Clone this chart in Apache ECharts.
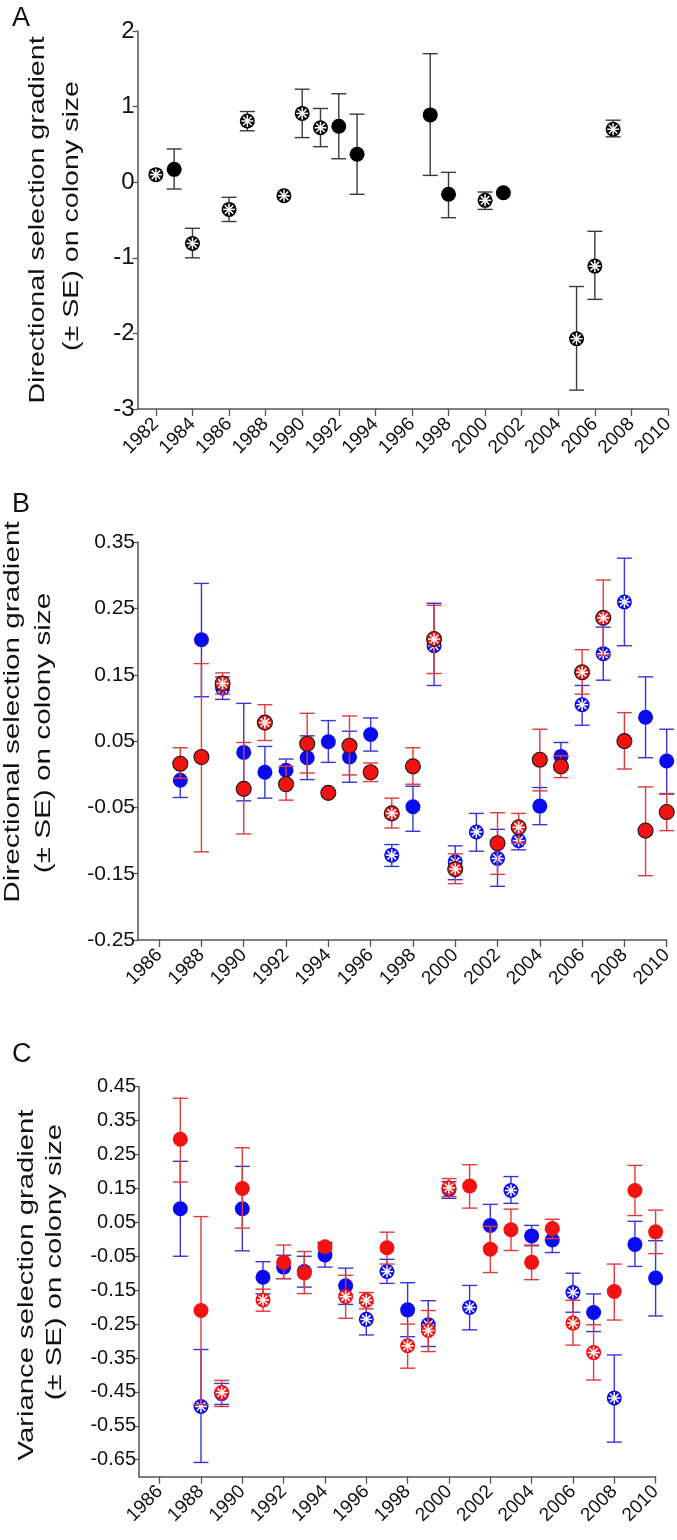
<!DOCTYPE html>
<html>
<head>
<meta charset="utf-8">
<script src="https://cdn.jsdelivr.net/npm/echarts@6/dist/echarts.min.js"></script>
<style>html,body{margin:0;padding:0;background:#fff}#c{width:677px;height:1540px}</style>
</head>
<body>
<div id="c"></div>
<script>
// ---------- Panel A (black) ----------
const yearsA = [1982,1983,1984,1986,1987,1989,1990,1991,1992,1993,1997,1998,2000,2001,2005,2006,2007];
const valA   = [0.10,0.17,-0.81,-0.36,0.81,-0.18,0.91,0.72,0.74,0.37,0.89,-0.16,-0.24,-0.14,-2.07,-1.11,0.70];
const loA    = [null,-0.09,-1.00,-0.52,0.68,null,0.59,0.47,0.31,-0.16,0.09,-0.47,-0.36,null,-2.75,-1.55,0.60];
const hiA    = [null,0.44,-0.61,-0.20,0.935,null,1.23,0.975,1.17,0.90,1.70,0.13,-0.13,null,-1.38,-0.65,0.82];
const starA  = [1,0,1,1,1,1,1,1,0,0,0,0,1,0,1,1,1];

// ---------- Panel B ----------
const yearsBblue = [1987,1988,1989,1990,1991,1992,1993,1994,1995,1996,1997,1998,1999,2000,2001,2002,2003,2004,2005,2006,2007,2008,2009,2010];
const valBblue = [-0.009,0.203,0.130,0.033,0.003,0.006,0.025,0.049,0.026,0.060,-0.122,-0.049,0.194,-0.132,-0.087,-0.127,-0.100,-0.048,0.027,0.105,0.182,0.260,0.086,0.020];
const loBblue  = [-0.035,0.117,0.113,-0.040,-0.036,-0.011,-0.008,0.018,-0.012,0.035,-0.139,-0.086,0.134,-0.159,-0.116,-0.169,-0.114,-0.076,0.007,0.074,0.142,0.194,0.025,-0.030];
const hiBblue  = [0.018,0.288,0.147,0.107,0.042,0.023,0.058,0.081,0.065,0.085,-0.106,-0.018,0.258,-0.108,-0.059,-0.083,-0.076,-0.020,0.048,0.134,0.222,0.326,0.147,0.068];
const starBblue = [0,0,1,0,0,0,0,0,0,0,1,0,1,1,1,1,1,0,0,1,1,1,0,0];

const yearsBred = [1987,1988,1989,1990,1991,1992,1993,1994,1995,1996,1997,1998,1999,2000,2002,2003,2004,2005,2006,2007,2008,2009,2010];
const valBred = [0.016,0.026,0.137,-0.022,0.078,-0.015,0.046,-0.028,0.043,0.003,-0.059,0.012,0.204,-0.143,-0.104,-0.080,0.022,0.012,0.154,0.236,0.050,-0.085,-0.057];
const loBred  = [-0.006,-0.117,0.121,-0.090,0.051,-0.039,0.002,null,-0.001,-0.011,-0.081,-0.015,0.152,-0.165,-0.151,-0.104,-0.025,-0.005,0.121,0.179,0.008,-0.153,-0.085];
const hiBred  = [0.040,0.167,0.153,0.048,0.105,0.012,0.092,null,0.088,0.017,-0.036,0.040,0.255,-0.120,-0.058,-0.059,0.068,0.028,0.188,0.293,0.093,-0.019,-0.029];
const starBred = [0,0,1,0,1,0,0,0,0,0,1,0,1,1,0,1,0,0,1,1,0,0,0];

// ---------- Panel C ----------
const yearsCblue = [1987,1988,1989,1990,1991,1992,1993,1994,1995,1996,1997,1998,1999,2000,2001,2002,2003,2004,2005,2006,2007,2008,2009,2010];
const valCblue = [0.090,-0.493,-0.455,0.090,-0.112,-0.082,-0.095,-0.046,-0.137,-0.236,-0.095,-0.208,-0.252,0.147,-0.201,0.041,0.144,0.010,-0.002,-0.157,-0.216,-0.468,-0.015,-0.114];
const loCblue  = [-0.050,-0.658,-0.487,-0.034,-0.161,-0.116,-0.141,-0.082,-0.192,-0.282,-0.130,-0.287,-0.316,0.121,-0.267,-0.022,0.106,-0.019,-0.039,-0.215,-0.272,-0.598,-0.080,-0.226];
const hiCblue  = [0.230,-0.325,-0.425,0.215,-0.066,-0.047,-0.050,-0.009,-0.085,-0.189,-0.059,-0.128,-0.181,0.170,-0.136,0.103,0.185,0.041,0.027,-0.100,-0.161,-0.341,0.053,-0.004];
const starCblue = [0,1,1,0,0,0,0,0,0,1,1,0,1,1,1,0,1,0,0,1,0,1,0,0];

const yearsCred = [1987,1988,1989,1990,1991,1992,1993,1994,1995,1996,1997,1998,1999,2000,2001,2002,2003,2004,2005,2006,2007,2008,2009,2010];
const valCred = [0.295,-0.210,-0.452,0.150,-0.179,-0.068,-0.099,-0.022,-0.169,-0.180,-0.025,-0.314,-0.269,0.152,0.157,-0.029,0.028,-0.068,0.032,-0.247,-0.334,-0.154,0.144,0.022];
const loCred  = [0.169,-0.487,-0.493,0.033,-0.212,-0.116,-0.160,-0.030,-0.233,-0.205,-0.073,-0.380,-0.331,0.126,0.092,-0.098,-0.033,-0.119,0.002,-0.312,-0.415,-0.238,0.070,-0.042];
const hiCred  = [0.416,0.067,-0.416,0.270,-0.147,-0.017,-0.036,-0.012,-0.106,-0.157,0.021,-0.250,-0.210,0.179,0.220,0.038,0.089,-0.017,0.059,-0.180,-0.252,-0.073,0.218,0.086];
const starCred = [0,0,1,0,1,0,0,0,1,1,0,1,1,1,0,0,0,0,0,1,1,0,0,0];

// ---------- tick labels ----------
const xTicksA = [1982,1984,1986,1988,1990,1992,1994,1996,1998,2000,2002,2004,2006,2008,2010];
const xTicksBC = [1986,1988,1990,1992,1994,1996,1998,2000,2002,2004,2006,2008,2010];
const yTicksA = [-3,-2,-1,0,1,2];
const yTicksB = [-0.25,-0.15,-0.05,0.05,0.15,0.25,0.35];
const yTicksC = [-0.65,-0.55,-0.45,-0.35,-0.25,-0.15,-0.05,0.05,0.15,0.25,0.35,0.45];

const FONT = 'Liberation Sans, Arial, Helvetica, sans-serif';

function build(years, vals, lo, hi, star) {
  return years.map((y, i) => {
    const has = lo[i] != null && hi[i] != null;
    return [y, vals[i], has ? lo[i] : vals[i], has ? hi[i] : vals[i], star[i], has ? 1 : 0];
  });
}

function makeRender(fill, barColor, border) {
  return function (params, api) {
    const x = api.value(0), v = api.value(1), lo = api.value(2), hi = api.value(3);
    const star = api.value(4), has = api.value(5);
    const c = api.coord([x, v]);
    const children = [];
    const capHalf = 7.5;
    if (has) {
      const pl = api.coord([x, lo]), ph = api.coord([x, hi]);
      const st = { stroke: barColor, lineWidth: 1.4 };
      children.push({ type: 'line', shape: { x1: c[0], y1: pl[1], x2: c[0], y2: ph[1] }, style: st });
      children.push({ type: 'line', shape: { x1: c[0] - capHalf, y1: pl[1], x2: c[0] + capHalf, y2: pl[1] }, style: st });
      children.push({ type: 'line', shape: { x1: c[0] - capHalf, y1: ph[1], x2: c[0] + capHalf, y2: ph[1] }, style: st });
    }
    children.push({ type: 'circle', shape: { cx: c[0], cy: c[1], r: 7.5 },
      style: { fill: fill, stroke: border || null, lineWidth: border ? 1.1 : 0 } });
    if (star) {
      const d = 6;
      [0, 45, 90, 135].forEach(a => {
        const r = a * Math.PI / 180, dx = Math.cos(r) * d, dy = Math.sin(r) * d;
        children.push({ type: 'line', shape: { x1: c[0] - dx, y1: c[1] - dy, x2: c[0] + dx, y2: c[1] + dy },
          style: { stroke: '#ffffff', lineWidth: 1.5 } });
      });
    }
    return { type: 'group', children: children };
  };
}

function series(idx, data, fill, bar, border) {
  return { type: 'custom', xAxisIndex: idx, yAxisIndex: idx, data: data,
    encode: { x: 0, y: 1 }, renderItem: makeRender(fill, bar, border), silent: true, clip: false };
}

function axisLine() { return { show: true, onZero: false, lineStyle: { color: '#555', width: 1.5 } }; }

function xAxis(idx, min, max, ticks) {
  return { type: 'value', gridIndex: idx, min: min, max: max,
    axisLine: axisLine(),
    axisTick: { show: true, length: 7, inside: false, customValues: ticks, lineStyle: { color: '#555', width: 1.3 } },
    axisLabel: { customValues: ticks, rotate: 45, fontSize: 19, color: '#111', fontFamily: FONT, margin: 12,
      formatter: v => String(v) },
    splitLine: { show: false } };
}
function yAxis(idx, min, max, ticks, fs, dec) {
  return { type: 'value', gridIndex: idx, min: min, max: max,
    axisLine: axisLine(),
    axisTick: { show: true, length: 5, inside: false, customValues: ticks, lineStyle: { color: '#555', width: 1.3 } },
    axisLabel: { customValues: ticks, fontSize: fs, color: '#111', fontFamily: FONT, margin: 3,
      formatter: v => Number(v).toFixed(dec) },
    splitLine: { show: false } };
}

function ytitle(x, y, text, sx) {
  return { type: 'text', x: x, y: y, rotation: Math.PI / 2, scaleX: sx, scaleY: 1,
    style: { text: text, font: '22px ' + FONT, fill: '#111', textAlign: 'center', textVerticalAlign: 'middle' } };
}
function letter(x, y, t) {
  return { type: 'text', x: x, y: y, style: { text: t, font: '27px ' + FONT, fill: '#111', textAlign: 'left', textVerticalAlign: 'top' } };
}

const BLUE = '#0a0aee', RED = '#f21212';
const BLUEBAR = '#3535d8', REDBAR = '#e23a3a';

const chart = echarts.init(document.getElementById('c'), null, { renderer: 'canvas', width: 677, height: 1540 });
chart.setOption({
  backgroundColor: '#ffffff',
  animation: false,
  grid: [
    { left: 137.6, top: 31, width: 530.4, height: 378 },
    { left: 138, top: 542.3, width: 528.7, height: 397.7 },
    { left: 139, top: 1086.7, width: 516.6, height: 390 }
  ],
  xAxis: [
    xAxis(0, 1981, 2010, xTicksA),
    xAxis(1, 1985, 2010, xTicksBC),
    xAxis(2, 1985, 2010, xTicksBC)
  ],
  yAxis: [
    yAxis(0, -3, 2, yTicksA, 24, 0),
    yAxis(1, -0.25, 0.35, yTicksB, 21, 2),
    yAxis(2, -0.7, 0.45, yTicksC, 20, 2)
  ],
  series: [
    series(0, build(yearsA, valA, loA, hiA, starA), '#000000', '#3a3a3a', null),
    series(1, build(yearsBblue, valBblue, loBblue, hiBblue, starBblue), BLUE, BLUEBAR, null),
    series(1, build(yearsBred, valBred, loBred, hiBred, starBred), RED, REDBAR, '#1a1a1a'),
    series(2, build(yearsCblue, valCblue, loCblue, hiCblue, starCblue), BLUE, BLUEBAR, null),
    series(2, build(yearsCred, valCred, loCred, hiCred, starCred), RED, REDBAR, null)
  ],
  graphic: [
    letter(12, 5, 'A'),
    letter(12, 491, 'B'),
    letter(12, 1041, 'C'),
    ytitle(38, 220, 'Directional selection gradient', 1.3),
    ytitle(72, 216, '(± SE) on colony size', 1.3),
    ytitle(13, 712, 'Directional selection gradient', 1.35),
    ytitle(44, 733, '(± SE) on colony size', 1.35),
    ytitle(27, 1285, 'Variance selection gradient', 1.33),
    ytitle(55, 1262, '(± SE) on colony size', 1.33)
  ]
});
</script>
</body>
</html>
